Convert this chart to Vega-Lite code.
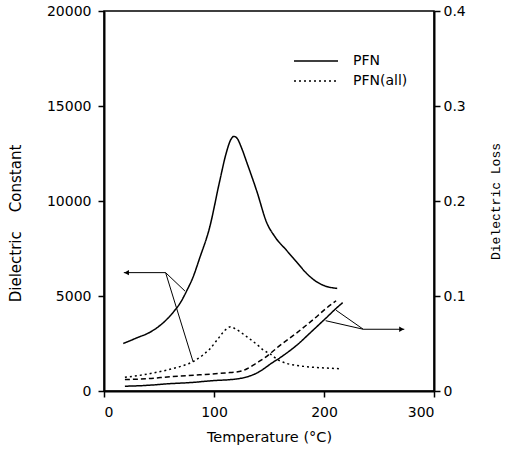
{
  "$schema": "https://vega.github.io/schema/vega-lite/v6.json",
  "width": 330,
  "height": 380,
  "autosize": {"type": "none"},
  "padding": {"left": 104, "top": 11, "right": 95, "bottom": 68},
  "background": "white",
  "config": {
    "view": {"stroke": "black", "strokeWidth": 1.5},
    "axis": {
      "grid": false,
      "domainColor": "black",
      "domainWidth": 2,
      "tickColor": "black",
      "tickWidth": 1.5,
      "tickSize": 6,
      "labelFont": "DejaVu Sans",
      "labelFontSize": 14,
      "labelColor": "black",
      "titleFont": "DejaVu Sans",
      "titleFontSize": 14.5,
      "titleFontWeight": "normal",
      "titleColor": "black"
    },
    "legend": {"labelFont": "DejaVu Sans", "labelFontSize": 14, "labelColor": "black"}
  },
  "datasets": {
    "eps": [
      {"T": 17.5, "eps": 2500, "sample": "PFN"},
      {"T": 30, "eps": 2800, "sample": "PFN"},
      {"T": 42, "eps": 3100, "sample": "PFN"},
      {"T": 52, "eps": 3500, "sample": "PFN"},
      {"T": 63, "eps": 4150, "sample": "PFN"},
      {"T": 70, "eps": 4700, "sample": "PFN"},
      {"T": 75, "eps": 5250, "sample": "PFN"},
      {"T": 81, "eps": 6000, "sample": "PFN"},
      {"T": 87, "eps": 7000, "sample": "PFN"},
      {"T": 96, "eps": 8600, "sample": "PFN"},
      {"T": 105, "eps": 11000, "sample": "PFN"},
      {"T": 111, "eps": 12500, "sample": "PFN"},
      {"T": 115, "eps": 13200, "sample": "PFN"},
      {"T": 118, "eps": 13400, "sample": "PFN"},
      {"T": 121, "eps": 13300, "sample": "PFN"},
      {"T": 125, "eps": 12800, "sample": "PFN"},
      {"T": 130, "eps": 12000, "sample": "PFN"},
      {"T": 139, "eps": 10500, "sample": "PFN"},
      {"T": 148, "eps": 8850, "sample": "PFN"},
      {"T": 155, "eps": 8150, "sample": "PFN"},
      {"T": 166, "eps": 7400, "sample": "PFN"},
      {"T": 175, "eps": 6800, "sample": "PFN"},
      {"T": 184, "eps": 6200, "sample": "PFN"},
      {"T": 192, "eps": 5800, "sample": "PFN"},
      {"T": 200, "eps": 5550, "sample": "PFN"},
      {"T": 206, "eps": 5450, "sample": "PFN"},
      {"T": 212, "eps": 5400, "sample": "PFN"},
      {"T": 19, "eps": 720, "sample": "PFN(all)"},
      {"T": 30, "eps": 800, "sample": "PFN(all)"},
      {"T": 45, "eps": 950, "sample": "PFN(all)"},
      {"T": 57, "eps": 1100, "sample": "PFN(all)"},
      {"T": 70, "eps": 1300, "sample": "PFN(all)"},
      {"T": 81, "eps": 1550, "sample": "PFN(all)"},
      {"T": 90, "eps": 1900, "sample": "PFN(all)"},
      {"T": 96, "eps": 2200, "sample": "PFN(all)"},
      {"T": 105, "eps": 2850, "sample": "PFN(all)"},
      {"T": 110, "eps": 3200, "sample": "PFN(all)"},
      {"T": 115, "eps": 3380, "sample": "PFN(all)"},
      {"T": 120, "eps": 3250, "sample": "PFN(all)"},
      {"T": 130, "eps": 2850, "sample": "PFN(all)"},
      {"T": 140, "eps": 2400, "sample": "PFN(all)"},
      {"T": 145, "eps": 2150, "sample": "PFN(all)"},
      {"T": 151, "eps": 1950, "sample": "PFN(all)"},
      {"T": 158, "eps": 1650, "sample": "PFN(all)"},
      {"T": 166, "eps": 1450, "sample": "PFN(all)"},
      {"T": 175, "eps": 1350, "sample": "PFN(all)"},
      {"T": 190, "eps": 1250, "sample": "PFN(all)"},
      {"T": 205, "eps": 1200, "sample": "PFN(all)"},
      {"T": 216, "eps": 1170, "sample": "PFN(all)"}
    ],
    "loss": [
      {"T": 19, "loss": 0.005, "sample2": "PFN"},
      {"T": 40, "loss": 0.006, "sample2": "PFN"},
      {"T": 57, "loss": 0.0075, "sample2": "PFN"},
      {"T": 80, "loss": 0.009, "sample2": "PFN"},
      {"T": 100, "loss": 0.011, "sample2": "PFN"},
      {"T": 115, "loss": 0.012, "sample2": "PFN"},
      {"T": 125, "loss": 0.0135, "sample2": "PFN"},
      {"T": 133, "loss": 0.016, "sample2": "PFN"},
      {"T": 140, "loss": 0.0195, "sample2": "PFN"},
      {"T": 146, "loss": 0.024, "sample2": "PFN"},
      {"T": 152, "loss": 0.029, "sample2": "PFN"},
      {"T": 160, "loss": 0.035, "sample2": "PFN"},
      {"T": 175, "loss": 0.048, "sample2": "PFN"},
      {"T": 190, "loss": 0.064, "sample2": "PFN"},
      {"T": 202, "loss": 0.077, "sample2": "PFN"},
      {"T": 212, "loss": 0.088, "sample2": "PFN"},
      {"T": 217, "loss": 0.093, "sample2": "PFN"},
      {"T": 19, "loss": 0.012, "sample2": "PFN(all)"},
      {"T": 40, "loss": 0.013, "sample2": "PFN(all)"},
      {"T": 60, "loss": 0.015, "sample2": "PFN(all)"},
      {"T": 87, "loss": 0.017, "sample2": "PFN(all)"},
      {"T": 110, "loss": 0.019, "sample2": "PFN(all)"},
      {"T": 125, "loss": 0.021, "sample2": "PFN(all)"},
      {"T": 131, "loss": 0.024, "sample2": "PFN(all)"},
      {"T": 138, "loss": 0.029, "sample2": "PFN(all)"},
      {"T": 145, "loss": 0.034, "sample2": "PFN(all)"},
      {"T": 160, "loss": 0.048, "sample2": "PFN(all)"},
      {"T": 175, "loss": 0.061, "sample2": "PFN(all)"},
      {"T": 190, "loss": 0.075, "sample2": "PFN(all)"},
      {"T": 202, "loss": 0.087, "sample2": "PFN(all)"},
      {"T": 211, "loss": 0.095, "sample2": "PFN(all)"}
    ],
    "arrowL": [
      {"T": 18, "T2": 56, "eps": 6230, "eps2": 6230},
      {"T": 56, "T2": 73.6, "eps": 6230, "eps2": 5260},
      {"T": 56, "T2": 81, "eps": 6230, "eps2": 1540}
    ],
    "headL": [{"T": 20.5, "eps": 6230}],
    "arrowR": [
      {"T": 235.7, "T2": 273, "loss": 0.065, "loss2": 0.065},
      {"T": 235.7, "T2": 201.5, "loss": 0.065, "loss2": 0.074},
      {"T": 235.7, "T2": 211, "loss": 0.065, "loss2": 0.085}
    ],
    "headR": [{"T": 270.5, "loss": 0.065}]
  },
  "layer": [
    {
      "layer": [
        {
          "data": {"name": "eps"},
          "mark": {"type": "line", "color": "black", "strokeWidth": 1.5, "interpolate": "monotone"},
          "encoding": {
            "x": {"field": "T", "type": "quantitative", "scale": {"domain": [0, 300], "nice": false},
                  "axis": {"values": [0, 100, 200, 300], "title": "Temperature (°C)", "labelPadding": 8, "titlePadding": 11}},
            "y": {"field": "eps", "type": "quantitative", "scale": {"domain": [0, 20000], "nice": false},
                  "axis": {"orient": "left", "values": [0, 5000, 10000, 15000, 20000], "format": "d", "title": "Dielectric\u00a0 \u00a0 Constant", "titleFontSize": 15, "titleX": -89, "titleY": 212, "titleBaseline": "middle", "labelPadding": 7}},
            "strokeDash": {"field": "sample", "type": "nominal",
                  "scale": {"domain": ["PFN", "PFN(all)"], "range": [[1, 0], [2, 3]]},
                  "legend": {"title": null, "orient": "none", "legendX": 189, "legendY": 43, "symbolType": "stroke", "symbolSize": 1936, "symbolStrokeWidth": 1.5, "symbolStrokeColor": "black", "labelOffset": 14, "clipHeight": 14, "rowPadding": 6}},
            "detail": {"field": "sample"}
          }
        },
        {
          "data": {"name": "arrowL"},
          "mark": {"type": "rule", "color": "black", "strokeWidth": 1},
          "encoding": {
            "x": {"field": "T", "type": "quantitative"},
            "x2": {"field": "T2"},
            "y": {"field": "eps", "type": "quantitative"},
            "y2": {"field": "eps2"}
          }
        },
        {
          "data": {"name": "headL"},
          "mark": {"type": "point", "shape": "triangle-left", "filled": true, "color": "black", "size": 30, "opacity": 1},
          "encoding": {
            "x": {"field": "T", "type": "quantitative"},
            "y": {"field": "eps", "type": "quantitative"}
          }
        }
      ]
    },
    {
      "layer": [
        {
          "data": {"name": "loss"},
          "mark": {"type": "line", "color": "black", "strokeWidth": 1.5, "interpolate": "monotone"},
          "encoding": {
            "x": {"field": "T", "type": "quantitative"},
            "y": {"field": "loss", "type": "quantitative", "scale": {"domain": [0, 0.4], "nice": false},
                  "axis": {"orient": "right", "values": [0, 0.1, 0.2, 0.3, 0.4], "format": ".1~f", "title": "Dielectric Loss", "titleFont": "Liberation Mono", "titleFontSize": 13, "titleAngle": 270, "labelPadding": 3, "titlePadding": 37}},
            "strokeDash": {"field": "sample2", "type": "nominal",
                  "scale": {"domain": ["PFN", "PFN(all)"], "range": [[1, 0], [5, 3]]}, "legend": null}
          }
        },
        {
          "data": {"name": "arrowR"},
          "mark": {"type": "rule", "color": "black", "strokeWidth": 1},
          "encoding": {
            "x": {"field": "T", "type": "quantitative"},
            "x2": {"field": "T2"},
            "y": {"field": "loss", "type": "quantitative"},
            "y2": {"field": "loss2"}
          }
        },
        {
          "data": {"name": "headR"},
          "mark": {"type": "point", "shape": "triangle-right", "filled": true, "color": "black", "size": 30, "opacity": 1},
          "encoding": {
            "x": {"field": "T", "type": "quantitative"},
            "y": {"field": "loss", "type": "quantitative"}
          }
        }
      ]
    }
  ],
  "resolve": {"scale": {"y": "independent", "strokeDash": "independent"}}
}
